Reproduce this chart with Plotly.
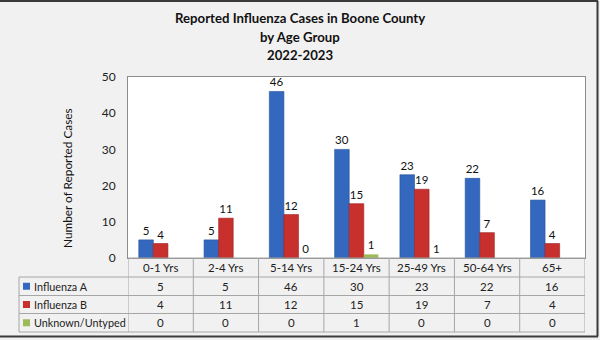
import plotly.graph_objects as go

categories = ["0-1 Yrs", "2-4 Yrs", "5-14 Yrs", "15-24 Yrs", "25-49 Yrs", "50-64 Yrs", "65+"]
flu_a = [5, 5, 46, 30, 23, 22, 16]
flu_b = [4, 11, 12, 15, 19, 7, 4]
unknown = [0, 0, 0, 1, 0, 0, 0]
unknown_labels = ["", "", "0", "1", "1", "", ""]
series_names = ["Influenza A", "Influenza B", "Unknown/Untyped"]
series_colors = ["#3468bf", "#c8302d", "#9cbb58"]
series_edges = ["#24509a", "#9c2220", "#9cbb58"]
series_edge_w = [0.6, 0.6, 0]
title_lines = ["Reported Influenza Cases in Boone County", "by Age Group", "2022-2023"]
y_title = "Number of Reported Cases"
y_ticks = [0, 10, 20, 30, 40, 50]

W, H = 600, 340
PL, PR, PT, PB = 128, 585, 77, 258
FONT = "Lato"


def xp(px):
    return (px - PL) / (PR - PL)


def yp(py):
    return (PB - py) / (PB - PT)


fig = go.Figure()
series_vals = [flu_a, flu_b, unknown]
series_text = [[str(v) for v in flu_a], [str(v) for v in flu_b], unknown_labels]
for name, vals, txt, col, edge, ew in zip(series_names, series_vals, series_text, series_colors,
                                          series_edges, series_edge_w):
    fig.add_trace(go.Bar(
        x=categories, y=vals, name=name, marker=dict(color=col, line=dict(width=ew, color=edge)),
        text=txt, textposition="outside", cliponaxis=False,
        textfont=dict(family=FONT, size=11.5, color="#111"),
    ))

shapes = []
annotations = []
line_col = "#a6a6a6"

row_edges = [PB, 277, 295.5, 313.5, 332]
TL = 19
n = len(categories)
for i, ry in enumerate(row_edges):
    x0 = xp(PL) if i == 0 else xp(TL)
    shapes.append(dict(type="line", xref="paper", yref="paper", x0=x0, x1=1, y0=yp(ry), y1=yp(ry),
                       line=dict(color=line_col, width=1)))
shapes.append(dict(type="line", xref="paper", yref="paper", x0=xp(TL), x1=xp(TL),
                   y0=yp(row_edges[1]), y1=yp(row_edges[-1]), line=dict(color=line_col, width=1)))
for k in range(n + 1):
    shapes.append(dict(type="line", xref="x", yref="paper", x0=k - 0.5, x1=k - 0.5,
                       y0=yp(row_edges[0]), y1=yp(row_edges[-1]), line=dict(color=line_col, width=1)))

cy = (row_edges[0] + row_edges[1]) / 2
for c in categories:
    annotations.append(dict(x=c, y=yp(cy), xref="x", yref="paper", text=c, showarrow=False,
                            font=dict(family=FONT, size=11.5, color="#222"), xanchor="center", yanchor="middle"))
for r, (name, vals, col) in enumerate(zip(series_names, series_vals, series_colors)):
    ry = (row_edges[r + 1] + row_edges[r + 2]) / 2
    for c, v in zip(categories, vals):
        annotations.append(dict(x=c, y=yp(ry), xref="x", yref="paper", text=str(v), showarrow=False,
                                font=dict(family=FONT, size=11.5, color="#222"), xanchor="center", yanchor="middle"))
    shapes.append(dict(type="rect", xref="paper", yref="paper", x0=xp(23), x1=xp(30),
                       y0=yp(ry + 3.5), y1=yp(ry - 3.5), fillcolor=col, line=dict(color=col, width=0)))
    annotations.append(dict(x=xp(31.5), y=yp(ry), xref="paper", yref="paper", text=name, showarrow=False,
                            font=dict(family=FONT, size=10.8, color="#222"), xanchor="left", yanchor="middle"))

for t, ty in zip(title_lines, [18, 37, 55]):
    annotations.append(dict(x=xp(300), y=yp(ty), xref="paper", yref="paper", text="<b>" + t + "</b>",
                            showarrow=False, font=dict(family=FONT, size=13.2, color="#111"),
                            xanchor="center", yanchor="middle"))
annotations.append(dict(x=xp(67), y=yp(178), xref="paper", yref="paper", text=y_title, textangle=-90,
                        showarrow=False, font=dict(family=FONT, size=11.8, color="#111"),
                        xanchor="center", yanchor="middle"))

for (x0, y0, x1, y1) in [(0, 1, 598, 1), (597.5, 1, 597.5, 336.5), (0, 336.5, 598, 336.5)]:
    shapes.append(dict(type="line", xref="paper", yref="paper", x0=xp(x0), x1=xp(x1), y0=yp(y0), y1=yp(y1),
                       line=dict(color="#3a3a3a", width=2)))

fig.update_layout(
    width=W, height=H, margin=dict(l=PL, r=W - PR, t=PT, b=H - PB, pad=0),
    paper_bgcolor="#f1f1f1", plot_bgcolor="#ffffff",
    barmode="group", bargap=0.33, bargroupgap=0, showlegend=False,
    shapes=shapes, annotations=annotations,
    font=dict(family=FONT, size=11, color="#222"),
)
fig.update_xaxes(range=[-0.5, n - 0.5], showticklabels=False, showgrid=False, zeroline=False,
                 showline=True, mirror=True, linecolor="#8c8c8c", linewidth=1, ticks="")
fig.update_yaxes(range=[0, 50], tickvals=y_ticks, showgrid=False, zeroline=False,
                 showline=True, mirror=True, linecolor="#8c8c8c", linewidth=1, ticks="",
                 ticklabelstandoff=9, tickfont=dict(family=FONT, size=12, color="#222"))

fig.write_html("out.html")
